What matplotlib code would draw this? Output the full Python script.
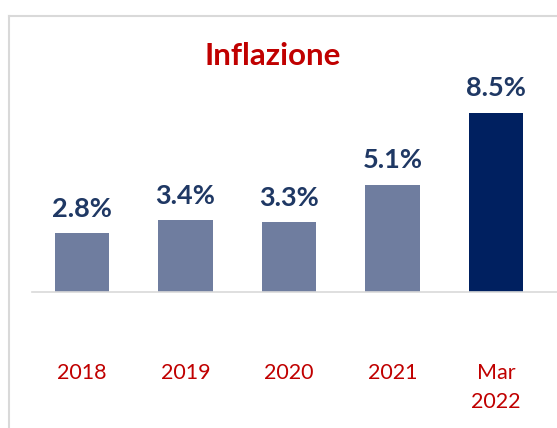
import matplotlib
matplotlib.use('Agg')
import matplotlib.pyplot as plt
from matplotlib.lines import Line2D

categories = ['2018', '2019', '2020', '2021', 'Mar\n2022']
values = [2.8, 3.4, 3.3, 5.1, 8.5]
labels = ['2.8%', '3.4%', '3.3%', '5.1%', '8.5%']
colors = ['#6f7d9f', '#6f7d9f', '#6f7d9f', '#6f7d9f', '#002060']

plt.rcParams['font.family'] = ['Lato', 'DejaVu Sans']

fig = plt.figure(figsize=(5.57, 4.28), dpi=100)
ax = fig.add_axes([32/557, 1-292/428, 525/557, (292-81.3)/428])

x = range(len(categories))
ax.bar(x, values, width=0.53, color=colors, zorder=2)
ax.set_xlim(-0.483, 4.589)
ax.set_ylim(0, 10)

for xi, v, lab in zip(x, values, labels):
    ax.annotate(lab, (xi, v), xytext=(0, 9), textcoords='offset points',
                ha='center', va='bottom', fontsize=19.5, fontweight='bold',
                color='#1f3864')

ax.set_xticks(list(x))
ax.set_xticklabels(categories, color='#c00000', fontsize=15.5, linespacing=1.6)
ax.tick_params(axis='x', length=0, pad=51)
ax.set_yticks([])
for s in ['top', 'right', 'left']:
    ax.spines[s].set_visible(False)
ax.spines['bottom'].set_color('#d9d9d9')
ax.spines['bottom'].set_linewidth(1.2)

fig.text(273/557, 1-56/428, 'Inflazione', ha='center', va='center',
         fontsize=22.5, fontweight='bold', color='#c00000')

# light frame around the chart area
fig.add_artist(Line2D([9/557, 1], [1-16/428, 1-16/428], color='#d9d9d9', lw=1.5))
fig.add_artist(Line2D([9/557, 9/557], [0, 1-16/428], color='#d9d9d9', lw=1.5))

fig.savefig('out.png', dpi=100)
